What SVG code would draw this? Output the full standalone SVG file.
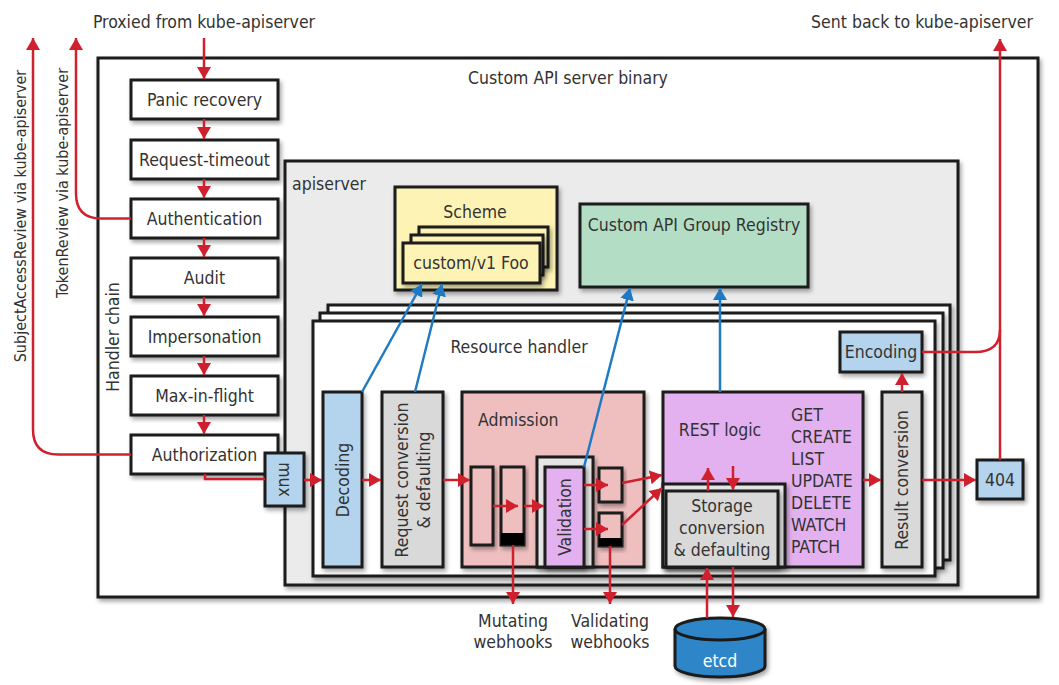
<svg xmlns="http://www.w3.org/2000/svg" width="1059" height="685" viewBox="0 0 1059 685">
<defs>
<filter id="sh" x="-10%" y="-10%" width="130%" height="130%"><feDropShadow dx="2" dy="3" stdDeviation="2" flood-color="#000" flood-opacity="0.35"/></filter>
<marker id="ar" viewBox="0 0 12 14" refX="12" refY="7" markerWidth="12" markerHeight="14" markerUnits="userSpaceOnUse" orient="auto"><path d="M0,0 L12,7 L0,14 z" fill="#d0202e"/></marker>
<marker id="ab" viewBox="0 0 12 14" refX="12" refY="7" markerWidth="12" markerHeight="14" markerUnits="userSpaceOnUse" orient="auto"><path d="M0,0 L12,7 L0,14 z" fill="#1f7ac3"/></marker>
<style>
.b{stroke:#1a1a1a;stroke-width:3;filter:url(#sh)}
.t{font-family:"Liberation Sans Narrow","DejaVu Sans Condensed","Liberation Sans",sans-serif;font-size:17.5px;fill:#333;text-anchor:middle;dominant-baseline:central}
.s{font-size:16px}
.l{text-anchor:start}
.r{fill:none;stroke:#d0202e;stroke-width:2.5}
.ra{fill:none;stroke:#d0202e;stroke-width:2.5;marker-end:url(#ar)}
.ba{fill:none;stroke:#1f7ac3;stroke-width:2.5;marker-end:url(#ab)}
.w{fill:#fff}.g{fill:#ebebeb}.gr{fill:#d9d9d9}.bl{fill:#b3d4ec}.pk{fill:#efbfbf}.pu{fill:#e3b1ef}.ye{fill:#fcf3b5}.mi{fill:#b3dec5}
</style>
</defs>
<rect width="1059" height="685" fill="#fff"/>
<g id="binary">
<rect class="b w" x="98" y="58" width="940" height="539"/>
<text class="t" x="568" y="78">Custom API server binary</text>
<text class="t" transform="translate(113,337) rotate(-90)">Handler chain</text>
</g>
<text class="t" x="204" y="22">Proxied from kube-apiserver</text>
<text class="t" x="922" y="22">Sent back to kube-apiserver</text>
<text class="t s" transform="translate(20,216) rotate(-90)">SubjectAccessReview via kube-apiserver</text>
<text class="t s" transform="translate(62,183) rotate(-90)">TokenReview via kube-apiserver</text>
<g id="panic"><rect class="b w" x="131" y="80" width="147" height="39"/><text class="t" x="204.5" y="99.5">Panic recovery</text></g>
<g id="timeout"><rect class="b w" x="131" y="140" width="147" height="39"/><text class="t" x="204.5" y="159.5">Request-timeout</text></g>
<g id="authn"><rect class="b w" x="131" y="199" width="147" height="39"/><text class="t" x="204.5" y="218.5">Authentication</text></g>
<g id="audit"><rect class="b w" x="131" y="258" width="147" height="39"/><text class="t" x="204.5" y="277.5">Audit</text></g>
<g id="imp"><rect class="b w" x="131" y="317" width="147" height="39"/><text class="t" x="204.5" y="336.5">Impersonation</text></g>
<g id="maxinflight"><rect class="b w" x="131" y="376" width="147" height="39"/><text class="t" x="204.5" y="395.5">Max-in-flight</text></g>
<g id="authz"><rect class="b w" x="131" y="435" width="147" height="39"/><text class="t" x="204.5" y="454.5">Authorization</text></g>
<g id="apiserver">
<rect class="b g" x="285" y="161" width="673" height="424"/>
<text class="t l" x="292" y="184">apiserver</text>
</g>
<g id="scheme">
<rect class="b ye" x="395" y="187" width="162" height="103"/>
<text class="t" x="475" y="212">Scheme</text>
<rect class="b ye" x="419" y="227" width="129" height="40"/>
<rect class="b ye" x="411" y="235" width="132" height="40"/>
<rect class="b ye" x="403" y="243" width="137" height="40"/>
<text class="t" x="471" y="263">custom/v1 Foo</text>
</g>
<g id="registry">
<rect class="b mi" x="580" y="204" width="228" height="83"/>
<text class="t" x="694" y="225">Custom API Group Registry</text>
</g>
<g id="resourcehandler">
<rect class="b w" x="328" y="305" width="622" height="255"/>
<rect class="b w" x="320" y="313" width="623" height="255"/>
<rect class="b w" x="313" y="321" width="622" height="255"/>
<text class="t" x="519" y="347">Resource handler</text>
</g>
<g id="mux"><rect class="b bl" x="265" y="453" width="39" height="53"/><text class="t" transform="translate(284.5,479.5) rotate(90)">mux</text></g>
<g id="decoding"><rect class="b bl" x="323" y="392" width="39" height="175"/><text class="t" transform="translate(343,480) rotate(-90)">Decoding</text></g>
<g id="reqconv"><rect class="b gr" x="382" y="392" width="61" height="175"/><text class="t" transform="translate(402,480) rotate(-90)">Request conversion</text><text class="t" transform="translate(424,480) rotate(-90)">&amp; defaulting</text></g>
<g id="admission">
<rect class="b pk" x="462" y="392" width="182" height="175"/>
<text class="t l" x="478" y="420">Admission</text>
<rect class="b" fill="#e6e6e6" x="537" y="457" width="56" height="110"/>
<rect class="b pk" x="471" y="467" width="22" height="78"/>
<rect class="b pk" x="501" y="467" width="23" height="78"/>
<rect fill="#000" x="501" y="533" width="23" height="12"/>
<rect class="b pk" x="599" y="468" width="23" height="34"/>
<rect class="b pk" x="599" y="513" width="23" height="33"/>
<rect fill="#000" x="599" y="538" width="23" height="8"/>
</g>
<g id="validation"><rect class="b pu" x="545" y="467" width="39" height="100"/><text class="t" transform="translate(565,517) rotate(-90)">Validation</text></g>
<g id="rest">
<rect class="b pu" x="663" y="392" width="200" height="175"/>
<text class="t" x="720" y="430">REST logic</text>
<text class="t l" x="791" y="415">GET</text>
<text class="t l" x="791" y="437">CREATE</text>
<text class="t l" x="791" y="459">LIST</text>
<text class="t l" x="791" y="481">UPDATE</text>
<text class="t l" x="791" y="503">DELETE</text>
<text class="t l" x="791" y="525">WATCH</text>
<text class="t l" x="791" y="547">PATCH</text>
<rect class="b" fill="#e6e6e6" x="663" y="484" width="122" height="83"/>
</g>
<g id="storage"><rect class="b gr" x="666" y="491" width="112" height="76"/><text class="t" x="722" y="506">Storage</text><text class="t" x="722" y="528">conversion</text><text class="t" x="722" y="550">&amp; defaulting</text></g>
<g id="result"><rect class="b gr" x="882" y="392" width="40" height="175"/><text class="t" transform="translate(902,480) rotate(-90)">Result conversion</text></g>
<g id="encoding"><rect class="b bl" x="840" y="332" width="82" height="40"/><text class="t" x="881" y="352">Encoding</text></g>
<g id="notfound"><rect class="b bl" x="977" y="460" width="46" height="39"/><text class="t" x="1000" y="480">404</text></g>
<g id="etcd">
<path class="b" fill="#2e86c9" d="M675,629 A45,11 0 0 1 765,629 V666 A45,11 0 0 1 675,666 Z"/>
<path d="M675,629 A45,11 0 0 0 765,629" fill="none" stroke="#1a1a1a" stroke-width="3"/>
<text class="t" x="720" y="661" style="fill:#fff">etcd</text>
</g>
<g id="labels">
<text class="t" x="513" y="621">Mutating</text><text class="t" x="513" y="642">webhooks</text>
<text class="t" x="610" y="621">Validating</text><text class="t" x="610" y="642">webhooks</text>
</g>
<g id="connectors">
<path class="ra" d="M204,38 V79"/>
<path class="ra" d="M204,119 V139"/>
<path class="ra" d="M204,179 V198"/>
<path class="ra" d="M204,238 V257"/>
<path class="ra" d="M204,297 V316"/>
<path class="ra" d="M204,356 V375"/>
<path class="ra" d="M204,415 V434"/>
<path class="ra" d="M131,218.5 H101 Q76,218.5 76,193.5 V38"/>
<path class="ra" d="M131,454.5 H58 Q33,454.5 33,429.5 V38"/>
<path class="r" d="M205,474 V479 H265"/>
<path class="ra" d="M304,480 H322"/>
<path class="ra" d="M362,480 H381"/>
<path class="ra" d="M443,480 H470"/>
<path class="ra" d="M493,506 H518"/>
<path class="ra" d="M524,506 H544"/>
<path class="ra" d="M584,485 H608"/>
<path class="ra" d="M584,529 H608"/>
<path class="ra" d="M622,483 L662,475"/>
<path class="ra" d="M622,525 L662,488"/>
<path class="ra" d="M708,491 V468"/>
<path class="ra" d="M733,466 V490"/>
<path class="ra" d="M707,618 V568"/>
<path class="ra" d="M733,567 V617"/>
<path class="ra" d="M513,545 V604"/>
<path class="ra" d="M610,546 V604"/>
<path class="ra" d="M863,480 H881"/>
<path class="ra" d="M922,480 H976"/>
<path class="ra" d="M902,392 V373"/>
<path class="r" d="M922,352 H975 Q1000,352 1000,330"/>
<path class="ra" d="M1000,460 V39"/>
<path class="ba" d="M362,392 L422,284"/>
<path class="ba" d="M415,392 L442,284"/>
<path class="ba" d="M584,467 L630,288"/>
<path class="ba" d="M720,392 V288"/>
</g>
</svg>
